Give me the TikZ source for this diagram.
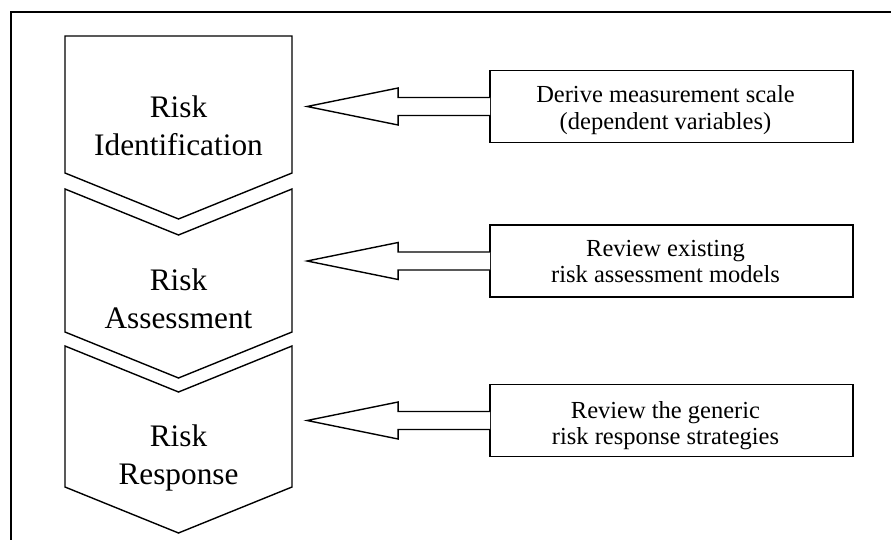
\documentclass[tikz,border=0pt]{standalone}
\usepackage{fontspec}
\setmainfont{Liberation Serif}
\usetikzlibrary{calc}
\begin{document}
\begin{tikzpicture}[x=1pt,y=-1pt,
  frame/.style={line width=2pt},
  chevron/.style={draw, line width=1.4pt, fill=white, line join=miter},
  stagetext/.style={font=\fontsize{31.3}{38}\selectfont, anchor=base, inner sep=0pt},
  notebox/.style={draw, line width=1.8pt, minimum width=363pt, minimum height=72pt, inner sep=0pt},
  notetext/.style={font=\fontsize{24.5}{26.5}\selectfont, anchor=base, inner sep=0pt},
  blockarrow/.style={draw, line width=1.4pt, fill=white, line join=miter}
]
\useasboundingbox (0,0) rectangle (891,540);
\clip (0,0) rectangle (891,540);
\fill[white] (0,0) rectangle (891,540);

% outer frame, running off the right and bottom edges
\draw[frame] (11,560) -- (11,12) -- (910,12);

% process stages
\draw[chevron] (65,36) -- (292,36) -- (292,173) -- (178.5,219) -- (65,173) -- cycle;
\draw[chevron] (65,189) -- (178.5,235) -- (292,189) -- (292,332) -- (178.5,378) -- (65,332) -- cycle;
\draw[chevron] (65,346) -- (178.5,392) -- (292,346) -- (292,487) -- (178.5,533) -- (65,487) -- cycle;

\node[stagetext] (s1) at (178.5,118) {\begin{tabular}[t]{@{}c@{}}Risk\\Identification\end{tabular}};
\node[stagetext] (s2) at (178.5,290) {\begin{tabular}[t]{@{}c@{}}Risk\\Assessment\end{tabular}};
\node[stagetext] (s3) at (178.5,446) {\begin{tabular}[t]{@{}c@{}}Risk\\Response\end{tabular}};

% input boxes
\node[notebox] (b1) at (671.5,106.5) {};
\node[notebox] (b2) at (671.5,261) {};
\node[notebox] (b3) at (671.5,420.5) {};

\node[notetext] (t1) at ($(b1.center)+(-6,-3.5)$) {\begin{tabular}[t]{@{}c@{}}Derive measurement scale\\(dependent variables)\end{tabular}};
\node[notetext] (t2) at ($(b2.center)+(-6,-5)$) {\begin{tabular}[t]{@{}c@{}}Review existing\\risk assessment models\end{tabular}};
\node[notetext] (t3) at ($(b3.center)+(-6,-2.5)$) {\begin{tabular}[t]{@{}c@{}}Review the generic\\risk response strategies\end{tabular}};

% block arrows leaving each box towards the stages
\foreach \b in {b1,b2,b3}{
  \draw[blockarrow] ($(\b.west)+(1,-9)$) -- ++(-92,0) -- ++(0,-9.5)
    -- ++(-91,18.5) -- ++(91,18.5) -- ++(0,-9.5) -- ++(92,0);
}
\end{tikzpicture}
\end{document}
